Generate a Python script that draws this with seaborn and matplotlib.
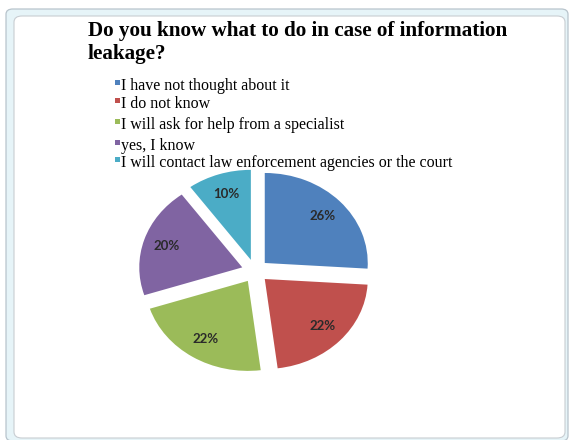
import matplotlib
matplotlib.use("Agg")
import matplotlib.pyplot as plt
from matplotlib.patches import FancyBboxPatch, Rectangle
import seaborn as sns

# survey answers
answers = ["I have not thought about it",
           "I do not know",
           "I will ask for help from a specialist",
           "yes, I know",
           "I will contact law enforcement agencies or the court"]
shares = [26, 22, 22, 20, 10]
colors = ["#4F81BD", "#C0504D", "#9BBB59", "#8064A2", "#4BACC6"]
title = "Do you know what to do in case of information\nleakage?"

sns.set_theme(style="white")
plt.rcParams['font.family'] = ['DejaVu Sans']

W, H = 569, 440
fig = plt.figure(figsize=(W / 100, H / 100), dpi=100)
fig.patch.set_facecolor("white")

def fx(px):
    return px / W

def fy(py):
    return 1 - py / H

# spreadsheet frame around the chart (kept behind the axes)
outer = FancyBboxPatch((fx(6), fy(441)), fx(562), 432 / H,
                       boxstyle="round,pad=0,rounding_size=0.012",
                       transform=fig.transFigure, facecolor="#E6F4F8",
                       edgecolor="#B8C4CC", lw=0.9, zorder=-10)
fig.patches.append(outer)
inner = FancyBboxPatch((fx(14), fy(438)), fx(551), 422 / H,
                       boxstyle="round,pad=0,rounding_size=0.014",
                       transform=fig.transFigure, facecolor="white",
                       edgecolor="#C8CDD2", lw=0.8, zorder=-9)
fig.patches.append(inner)

# pie (slightly squashed like the excel screenshot)
ax = fig.add_axes([0.2219, 0.1284, 0.4525, 0.5114])
ax.patch.set_alpha(0)
wedges, texts, autotexts = ax.pie(
    shares, colors=colors, startangle=90, counterclock=False,
    explode=[0.13] * len(shares), autopct="%d%%", pctdistance=0.77,
    wedgeprops=dict(linewidth=0),
    textprops=dict(fontsize=9.5, fontweight="bold", color="#2A2A2A",
                   family=["Lato", "DejaVu Sans"]))
ax.set_aspect("auto")
ax.set_xlim(-1.25, 1.25)
ax.set_ylim(-1.25, 1.25)
ax.axis("off")

# title
fig.text(fx(88), fy(21), title, ha="left", va="top", fontsize=15.2,
         fontweight="bold", family=["Liberation Serif", "DejaVu Serif"],
         linespacing=1.2, color="black")

# legend drawn by hand (uneven spacing as in the original)
legend_y = [86, 104, 125, 146, 163]
for lab, col, y in zip(answers, colors, legend_y):
    fig.patches.append(Rectangle((fx(115), fy(y - 1)), fx(5), 5 / H,
                                 transform=fig.transFigure,
                                 facecolor=col, edgecolor="none"))
    fig.text(fx(121), fy(y), lab, ha="left", va="center", fontsize=11.5,
             family=["Liberation Serif", "DejaVu Serif"], color="black")

fig.savefig("out.png", dpi=100)
